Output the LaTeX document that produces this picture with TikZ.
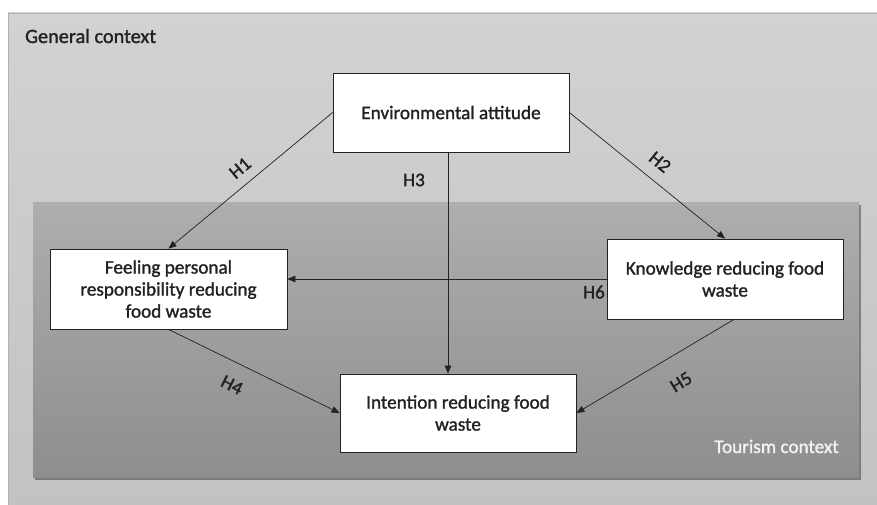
\documentclass[tikz,border=0pt]{standalone}
\usepackage{fontspec}
\setmainfont{Carlito}[RawFeature={embolden=1.4}]
\usetikzlibrary{arrows.meta,shadows}

\definecolor{gentop}{HTML}{D2D2D2}
\definecolor{genbot}{HTML}{C2C2C2}
\definecolor{tourtop}{HTML}{AEAEAE}
\definecolor{tourbot}{HTML}{8E8E8E}
\definecolor{ink}{HTML}{222222}

\newcommand{\boxfont}{\fontsize{19.2}{22}\selectfont}

\begin{document}
\begin{tikzpicture}[x=1pt,y=-1pt,
    box/.style={draw=ink,line width=0.8pt,fill=white,align=center,text=ink,
      font=\boxfont,inner sep=0pt},
    link/.style={-{Triangle[length=8pt,width=6.5pt]},ink,line width=0.7pt},
    hyp/.style={font=\boxfont,text=ink,inner sep=0pt}]

  % canvas size
  \useasboundingbox (0,0) rectangle (877,505);

  % General context (outer area)
  \shade[top color=gentop,bottom color=genbot,draw=black!30]
    (8,13) rectangle (880,508);
  \node[hyp,anchor=base west] (gen) at (25,43) {\fontsize{20.3}{22}\selectfont General context};

  % Tourism context (inner area)
  \shade[top color=tourtop,bottom color=tourbot,
    drop shadow={shadow xshift=1.5pt,shadow yshift=-3pt,fill=black!70,opacity=0.6}]
    (33,202) rectangle (859,477);
  \node[hyp,anchor=base east,text=white!95!black] (tour) at (839,453) {Tourism context};

  % constructs
  \node[box,minimum width=236pt,minimum height=79pt] (env) at (451,112.5)
    {Environmental attitude};
  \node[box,minimum width=237pt,minimum height=80pt] (feel) at (168.5,289)
    {Feeling personal\\responsibility reducing\\food waste};
  \node[box,minimum width=236pt,minimum height=80pt] (know) at (725,279)
    {Knowledge reducing food\\waste};
  \node[box,minimum width=236pt,minimum height=78pt] (int) at (458,413)
    {Intention reducing food\\waste};

  % hypotheses
  \draw[link] (env.west) -- (feel.north);
  \draw[link] (env.east) -- (know.north);
  \draw[link] ([xshift=-3pt]env.south) -- ([xshift=-3pt]env.south |- int.north);
  \draw[link] (know.west) -- (know.west -| feel.east);
  \draw[link] (feel.south) -- (int.west);
  \draw[link] ([xshift=9pt]know.south) -- (int.east);

  % hypothesis labels
  \node[hyp,rotate=40] (h1) at (240,168) {H1};
  \node[hyp,rotate=-39] (h2) at (660,162) {H2};
  \node[hyp] (h3) at (414,180) {H3};
  \node[hyp,rotate=-27] (h4) at (232,385) {H4};
  \node[hyp,rotate=32] (h5) at (681,382) {H5};
  \node[hyp,anchor=east] (h6) at (605,292) {H6};

\end{tikzpicture}
\end{document}
